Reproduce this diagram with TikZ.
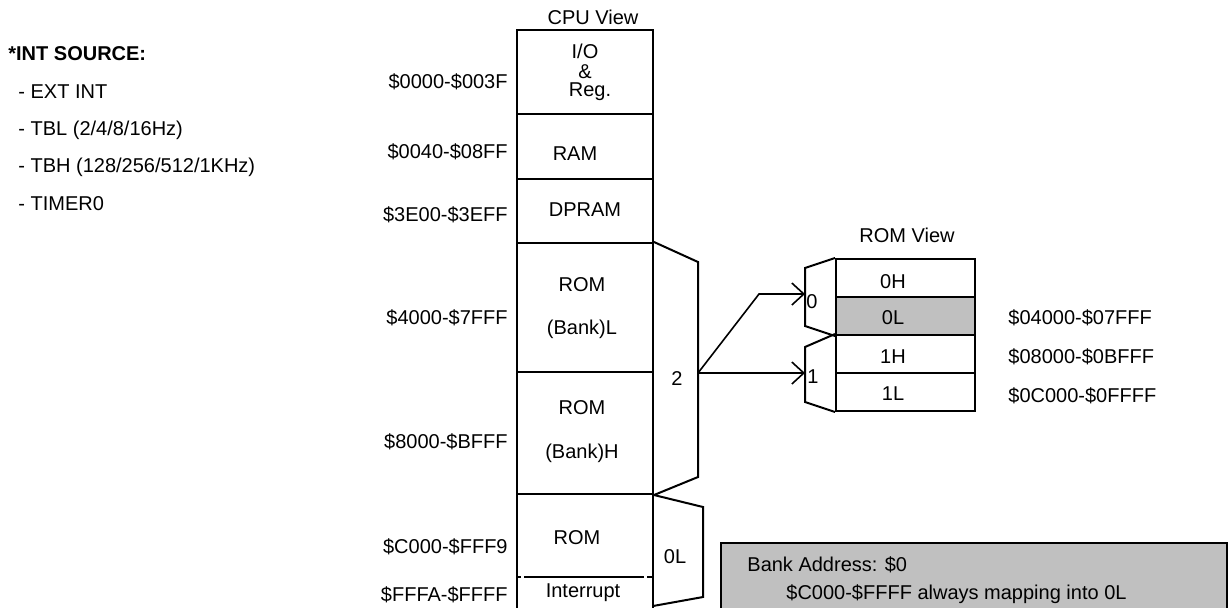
\documentclass[tikz,border=0pt]{standalone}
\usepackage{fontspec}
\setmainfont{Liberation Sans}
\usetikzlibrary{arrows.meta,positioning}
\definecolor{bankgrey}{HTML}{C0C0C0}
\tikzset{
  every node/.style={font=\fontsize{10}{12}\selectfont, text=black, inner sep=0pt},
  seg/.style={rectangle, draw, line width=1pt, minimum width=68pt, inner sep=0pt},
  romseg/.style={rectangle, draw, line width=1pt, minimum width=69.5pt,
    minimum height=19pt, inner sep=0pt},
  mux/.style={line width=1pt, line join=miter},
  addr/.style={anchor=east},
  raddr/.style={anchor=west},
  note/.style={anchor=west},
  flow/.style={-{Straight Barb[length=6pt,width=11pt]}, line width=0.8pt},
  irqline/.style={line width=1pt,
    dash pattern=on 2.5pt off 1.7pt on 59.6pt off 1.7pt on 2.5pt off 20pt},
}

\begin{document}
\begin{tikzpicture}[x=0.5pt,y=-0.5pt]
\useasboundingbox (0,0) rectangle (1229,607);

% ---- Interrupt sources ---------------------------------------------------
\node[note] (srchead) at (8,54) {\textbf{*INT SOURCE:}};
\node[note] (src1) at (18,92) {- EXT INT};
\node[note] (src2) at (18,130) {- TBL (2/4/8/16Hz)};
\node[note] (src3) at (18,167) {- TBH (128/256/512/1KHz)};
\node[note] (src4) at (18,204) {- TIMER0};

% ---- CPU view --------------------------------------------------------------
\node (cputitle) at (593,17) {CPU View};
\node[seg, minimum height=42pt]   (io)     at (585,72)    {};
\node[seg, minimum height=32.5pt] (ram)    at (585,146.5) {};
\node[seg, minimum height=32pt]   (dpram)  at (585,211)   {};
\node[seg, minimum height=64.5pt] (romlo)  at (585,307.5) {};
\node[seg, minimum height=61pt]   (romhi)  at (585,433)   {};
\node[seg, minimum height=59pt]   (romfix) at (585,553)   {};
\draw[irqline] (romfix.west |- 0,577) -- (romfix.east |- 0,577);

\node (t_io1) at (585,51) {I/O};
\node (t_io2) at (585,72) {\&};
\node (t_io3) at (590,92) {Reg.};
\node (t_ram) at (575,154) {RAM};
\node (t_dpram) at (585,210) {DPRAM};
\node (t_romlo1) at (582,285) {ROM};
\node (t_romlo2) at (582,329) {(Bank)L};
\node (t_romhi1) at (582,408) {ROM};
\node (t_romhi2) at (582,453) {(Bank)H};
\node (t_romfix) at (577,538) {ROM};
\node (t_irq) at (583,593) {Interrupt};

\node[addr] (a_io)    at (508,82)  {\$0000-\$003F};
\node[addr] (a_ram)   at (508,152) {\$0040-\$08FF};
\node[addr] (a_dpram) at (508,215) {\$3E00-\$3EFF};
\node[addr] (a_romlo) at (508,318) {\$4000-\$7FFF};
\node[addr] (a_romhi) at (508,442) {\$8000-\$BFFF};
\node[addr] (a_romfx) at (508,547) {\$C000-\$FFF9};
\node[addr] (a_irq)   at (508,595) {\$FFFA-\$FFFF};

% Bank multiplexers next to the CPU column
\draw[mux] (romlo.north east) -- (698,262) -- (698,477) -- (romhi.south east);
\node (m_two) at (677,379) {2};
\draw[mux] (romhi.south east) -- (703,507) -- (703,597) -- (653,606);
\node (m_fix) at (675,557) {0L};

% ---- ROM view --------------------------------------------------------------
\node (romtitle) at (907,235) {ROM View};
\node[romseg] (r0h) at (905.5,278) {};
\node[romseg, fill=bankgrey] (r0l) at (905.5,316) {};
\node[romseg] (r1h) at (905.5,354) {};
\node[romseg] (r1l) at (905.5,392) {};
\node (t_0h) at (893,282) {0H};
\node (t_0l) at (893,318) {0L};
\node (t_1h) at (893,357) {1H};
\node (t_1l) at (893,394) {1L};

\draw[mux] (r0h.north west) -- (805,268) -- (805,326) -- (r0l.south west);
\node (m_zero) at (812,302) {0};
\draw[mux] (r1h.north west) -- (805,347) -- (805,402) -- (r1l.south west);
\node (m_one) at (813,377) {1};

\node[raddr] (a_0l) at (1008,318) {\$04000-\$07FFF};
\node[raddr] (a_1h) at (1008,357) {\$08000-\$0BFFF};
\node[raddr] (a_1l) at (1008,396) {\$0C000-\$0FFFF};

\coordinate (m2out) at (698,373);
\coordinate (bend)  at (759,294);
\coordinate (m0in)  at (805,294);
\coordinate (m1in)  at (805,373);
\draw[flow] (m2out) -- (bend) -- (m0in);
\draw[flow] (m2out) -- (m1in);

% ---- Bank address note -----------------------------------------------------
\node[rectangle, draw, line width=1pt, fill=bankgrey, minimum width=253pt,
  minimum height=34.5pt] (bankbox) at (974,577.5) {};
\node[note] (bank1) at (747,565) {Bank Address: \$0};
\node[note] (bank2) at (786,594) {\$C000-\$FFFF always mapping into 0L};

\end{tikzpicture}
\end{document}
